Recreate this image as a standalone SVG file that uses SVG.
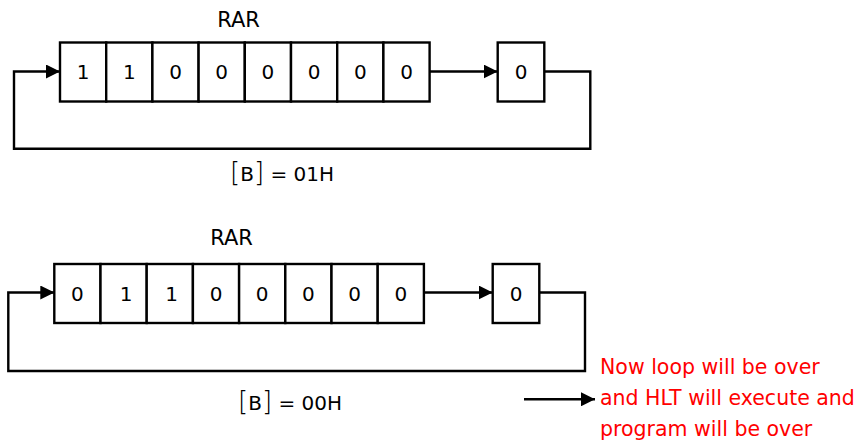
<svg xmlns="http://www.w3.org/2000/svg" width="866" height="444" viewBox="0 0 866 444">
<style>
.cell{fill:#fff;stroke:#000;stroke-width:2.4}
.t{font-family:"DejaVu Sans","Verdana",sans-serif;font-size:20px;fill:#000;text-anchor:middle}
.rar{font-size:21px}
.lbl{font-family:"DejaVu Sans","Verdana",sans-serif;font-size:20px;fill:#000}
.br{font-size:26px;font-weight:200}
.red{font-family:"DejaVu Sans","Verdana",sans-serif;font-size:20.5px;fill:#ff0000}
.conn{fill:none;stroke:#000;stroke-width:2.4}
</style>
<defs>
<marker id="ah" markerUnits="userSpaceOnUse" markerWidth="14" markerHeight="14" refX="14" refY="7" orient="auto">
<path d="M0,0 L14,7 L0,14 z" fill="#000"/>
</marker>
</defs>
<rect width="866" height="444" fill="#fff"/>

<g id="rar-label-1"><text class="t rar" x="238.5" y="27">RAR</text></g>
<g id="register-1">
<rect class="cell" x="60" y="42.5" width="46.2" height="59"/>
<rect class="cell" x="106.2" y="42.5" width="46.2" height="59"/>
<rect class="cell" x="152.4" y="42.5" width="46.2" height="59"/>
<rect class="cell" x="198.6" y="42.5" width="46.2" height="59"/>
<rect class="cell" x="244.8" y="42.5" width="46.2" height="59"/>
<rect class="cell" x="291" y="42.5" width="46.2" height="59"/>
<rect class="cell" x="337.2" y="42.5" width="46.2" height="59"/>
<rect class="cell" x="383.4" y="42.5" width="46.2" height="59"/>
<text class="t" x="83.1" y="79">1</text>
<text class="t" x="129.3" y="79">1</text>
<text class="t" x="175.5" y="79">0</text>
<text class="t" x="221.7" y="79">0</text>
<text class="t" x="267.9" y="79">0</text>
<text class="t" x="314.1" y="79">0</text>
<text class="t" x="360.3" y="79">0</text>
<text class="t" x="406.5" y="79">0</text>
</g>
<g id="carry-1">
<rect class="cell" x="497.7" y="42.5" width="46.6" height="59"/>
<text class="t" x="521" y="79">0</text>
</g>
<g id="b-label-1"><text class="lbl" x="282" y="181" text-anchor="middle"><tspan class="br">[</tspan>B<tspan class="br">]</tspan> = 01H</text></g>

<g id="rar-label-2"><text class="t rar" x="231.5" y="245">RAR</text></g>
<g id="register-2">
<rect class="cell" x="54.3" y="264" width="46.2" height="59"/>
<rect class="cell" x="100.5" y="264" width="46.2" height="59"/>
<rect class="cell" x="146.7" y="264" width="46.2" height="59"/>
<rect class="cell" x="192.9" y="264" width="46.2" height="59"/>
<rect class="cell" x="239.1" y="264" width="46.2" height="59"/>
<rect class="cell" x="285.3" y="264" width="46.2" height="59"/>
<rect class="cell" x="331.5" y="264" width="46.2" height="59"/>
<rect class="cell" x="377.7" y="264" width="46.2" height="59"/>
<text class="t" x="77.4" y="301">0</text>
<text class="t" x="126" y="301">1</text>
<text class="t" x="171.5" y="301">1</text>
<text class="t" x="216" y="301">0</text>
<text class="t" x="262.2" y="301">0</text>
<text class="t" x="308.4" y="301">0</text>
<text class="t" x="354.6" y="301">0</text>
<text class="t" x="400.8" y="301">0</text>
</g>
<g id="carry-2">
<rect class="cell" x="492.7" y="264" width="46.6" height="59"/>
<text class="t" x="516" y="301">0</text>
</g>
<g id="b-label-2"><text class="lbl" x="290" y="410" text-anchor="middle"><tspan class="br">[</tspan>B<tspan class="br">]</tspan> = 00H</text></g>

<g id="note">
<text class="red" x="600" y="374">Now loop will be over</text>
<text class="red" x="600" y="405">and HLT will execute and</text>
<text class="red" x="600" y="436">program will be over</text>
</g>

<g id="connectors">
<path class="conn" d="M429.6,71.5 H497.7" marker-end="url(#ah)"/>
<path class="conn" d="M544.3,71.5 H590.3 V148.7 H14 V71.5 H60" marker-end="url(#ah)"/>
<path class="conn" d="M423.9,292.5 H492.7" marker-end="url(#ah)"/>
<path class="conn" d="M539.3,292.5 H585 V371 H8.3 V292.5 H54.3" marker-end="url(#ah)"/>
<path class="conn" d="M524,399.3 H595" marker-end="url(#ah)"/>
</g>
</svg>
